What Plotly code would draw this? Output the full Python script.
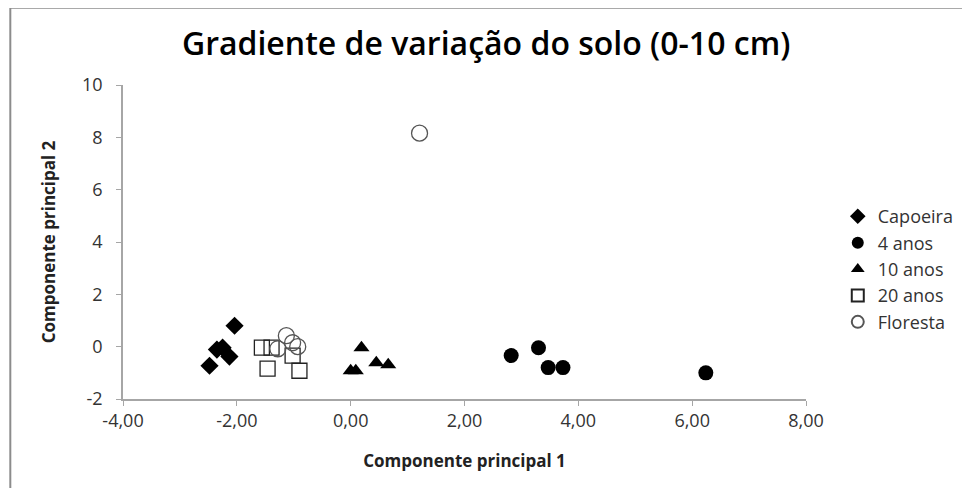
"""Gradiente de variação do solo (0-10 cm) — PCA scatter."""

import plotly.graph_objects as go

# componente principal 1 / 2 per treatment
capoeira_x = [-2.04, -2.35, -2.25, -2.13, -2.48]
capoeira_y = [0.80, -0.11, -0.04, -0.38, -0.73]

anos4_x = [2.82, 3.30, 3.47, 3.73, 6.24]
anos4_y = [-0.34, -0.04, -0.80, -0.80, -1.00]

anos10_x = [0.19, 0.00, 0.09, 0.45, 0.66]
anos10_y = [-0.04, -0.92, -0.92, -0.61, -0.69]

anos20_x = [-1.56, -1.39, -1.02, -1.46, -0.90]
anos20_y = [-0.04, -0.04, -0.34, -0.84, -0.92]

floresta_x = [-1.13, -1.02, -0.93, -1.28, 1.21]
floresta_y = [0.42, 0.15, 0.00, -0.08, 8.16]

x_ticks = [-4, -2, 0, 2, 4, 6, 8]
x_labels = ["-4,00", "-2,00", "0,00", "2,00", "4,00", "6,00", "8,00"]
y_ticks = [-2, 0, 2, 4, 6, 8, 10]
y_labels = ["-2", "0", "2", "4", "6", "8", "10"]

FONT = "Open Sans"

series = [
    ("Capoeira", capoeira_x, capoeira_y,
     dict(symbol="diamond", size=14, color="black")),
    ("4 anos", anos4_x, anos4_y,
     dict(symbol="circle", size=15, color="black")),
    ("10 anos", anos10_x, anos10_y,
     dict(symbol="triangle-up", size=14, color="black")),
    ("20 anos", anos20_x, anos20_y,
     dict(symbol="square-open", size=15, color="#222222", line=dict(width=1.3))),
    ("Floresta", floresta_x, floresta_y,
     dict(symbol="circle-open", size=16, color="#555555", line=dict(width=1.3))),
]

fig = go.Figure()
for name, xs, ys, marker in series:
    fig.add_trace(go.Scatter(
        x=xs, y=ys, mode="markers", name=name,
        marker=marker, legendgroup=name,
    ))

fig.update_layout(
    width=962, height=480,
    margin=dict(l=115, r=163, t=77, b=89),
    paper_bgcolor="white", plot_bgcolor="white",
    font=dict(family=FONT, color="#333333", size=15),
    title=dict(text="Gradiente de variação do solo (0-10 cm)",
               x=0.497, xanchor="center", y=0.925, yanchor="middle",
               font=dict(family=FONT, size=32, color="black", weight=600)),
    legend=dict(x=1.045, xanchor="left", y=0.64, yanchor="top",
                font=dict(family=FONT, size=18, color="#333333"),
                traceorder="grouped", tracegroupgap=0,
                itemwidth=30, itemsizing="constant",
                bgcolor="rgba(0,0,0,0)"),
    xaxis=dict(range=[-4, 8], tickvals=x_ticks, ticktext=x_labels,
               showgrid=False, zeroline=False, showline=True,
               linecolor="#a6a6a6", linewidth=1.5,
               ticks="outside", ticklen=5, tickcolor="#a6a6a6",
               tickfont=dict(size=18, color="#333333"),
               title=dict(text="<b>Componente principal 1</b>", standoff=24,
                          font=dict(size=17, color="#222222"))),
    yaxis=dict(range=[-2, 10], tickvals=y_ticks, ticktext=y_labels,
               showgrid=False, zeroline=False, showline=True,
               linecolor="#a6a6a6", linewidth=1.5,
               ticks="outside", ticklen=5, tickcolor="#a6a6a6",
               ticklabelstandoff=10,
               tickfont=dict(size=18, color="#333333"),
               title=dict(text="<b>Componente principal 2</b>", standoff=22,
                          font=dict(size=17, color="#222222"))),
)

# outer chart border (only left and top edges are visible in the frame)
fig.add_shape(type="line", xref="paper", yref="paper",
              x0=-0.165, x1=1.3, y0=1.246, y1=1.246,
              line=dict(color="#8c8c8c", width=2))
fig.add_shape(type="line", xref="paper", yref="paper",
              x0=-0.165, x1=-0.165, y0=1.246, y1=-0.4,
              line=dict(color="#8c8c8c", width=2))

fig.write_html("out.html")
